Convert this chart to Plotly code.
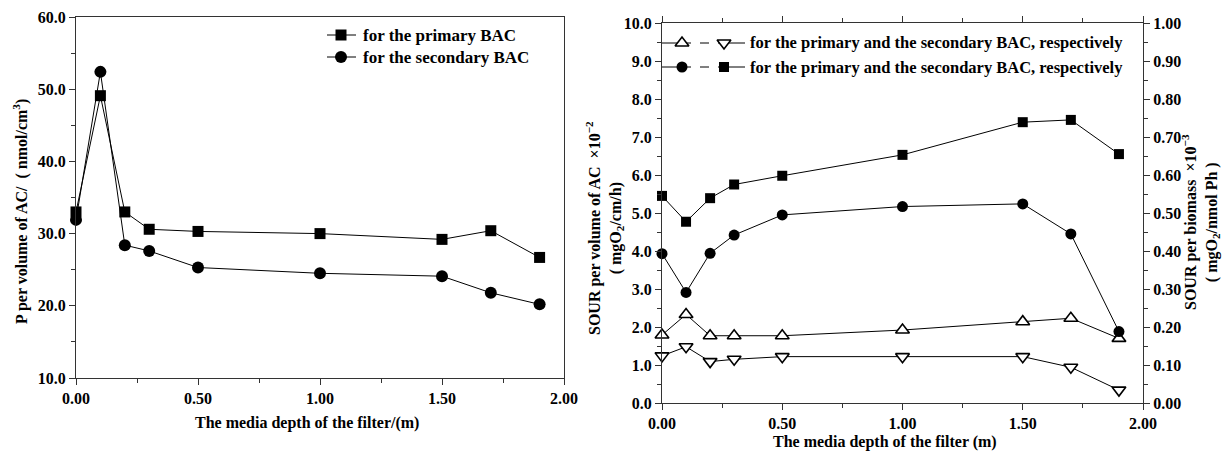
import plotly.graph_objects as go

# ---------------- data ----------------
depth = [0.0, 0.1, 0.2, 0.3, 0.5, 1.0, 1.5, 1.7, 1.9]

# left chart: P per volume of AC (nmol/cm3)
p_primary = [33.0, 49.1, 33.0, 30.6, 30.3, 30.0, 29.2, 30.4, 26.7]
p_secondary = [31.9, 52.4, 28.4, 27.6, 25.3, 24.5, 24.1, 21.8, 20.2]

# right chart: SOUR per volume of AC x10^-2 (left axis)
sour_vol_primary = [1.79, 2.33, 1.77, 1.77, 1.77, 1.92, 2.14, 2.23, 1.70]
sour_vol_secondary = [1.24, 1.48, 1.09, 1.15, 1.22, 1.22, 1.22, 0.94, 0.34]
# right chart: SOUR per biomass x10^-3 (right axis)
sour_bio_primary = [0.393, 0.291, 0.394, 0.442, 0.495, 0.517, 0.524, 0.445, 0.188]
sour_bio_secondary = [0.545, 0.477, 0.539, 0.575, 0.598, 0.653, 0.739, 0.745, 0.655]

left_legend = ["for the primary BAC", "for the secondary BAC"]
right_legend = ["for the primary and the secondary BAC, respectively",
                "for the primary and the secondary BAC, respectively"]

FONT = "Liberation Serif"
OFF = 8                      # page body margin
W, H = 1230 - OFF, 460 - OFF

def px(x):
    return (x - OFF) / W

def py(y):
    return 1 - (y - OFF) / H

fig = go.Figure()

line = dict(color="black", width=1)

# left chart traces
fig.add_trace(go.Scatter(x=depth, y=p_primary, mode="lines+markers", xaxis="x", yaxis="y",
                         line=line, marker=dict(symbol="square", size=11, color="black"),
                         cliponaxis=False, showlegend=False))
fig.add_trace(go.Scatter(x=depth, y=p_secondary, mode="lines+markers", xaxis="x", yaxis="y",
                         line=line, marker=dict(symbol="circle", size=12, color="black"),
                         cliponaxis=False, showlegend=False))

# right chart traces
tri_marker = dict(color="white", line=dict(color="black", width=1.6))
fig.add_trace(go.Scatter(x=depth, y=sour_vol_primary, mode="lines+markers", xaxis="x2", yaxis="y2",
                         line=line, marker=dict(symbol="triangle-up", size=12, **tri_marker),
                         cliponaxis=False, showlegend=False))
fig.add_trace(go.Scatter(x=depth, y=sour_vol_secondary, mode="lines+markers", xaxis="x2", yaxis="y2",
                         line=line, marker=dict(symbol="triangle-down", size=12, **tri_marker),
                         cliponaxis=False, showlegend=False))
fig.add_trace(go.Scatter(x=depth, y=sour_bio_primary, mode="lines+markers", xaxis="x2", yaxis="y3",
                         line=line, marker=dict(symbol="circle", size=11, color="black"),
                         cliponaxis=False, showlegend=False))
fig.add_trace(go.Scatter(x=depth, y=sour_bio_secondary, mode="lines+markers", xaxis="x2", yaxis="y3",
                         line=line, marker=dict(symbol="square", size=10, color="black"),
                         cliponaxis=False, showlegend=False))

# ---------------- custom legends (full-figure helper axis) ----------------
def leg_seg(x0, x1, y, dash="solid"):
    fig.add_trace(go.Scatter(x=[px(x0), px(x1)], y=[py(y), py(y)], mode="lines", xaxis="x4", yaxis="y4",
                             line=dict(color="black", width=1, dash=dash), showlegend=False,
                             hoverinfo="skip"))

def leg_mark(x, y, marker):
    fig.add_trace(go.Scatter(x=[px(x)], y=[py(y)], mode="markers", xaxis="x4", yaxis="y4",
                             marker=marker, showlegend=False, hoverinfo="skip", cliponaxis=False))

# left legend
for i, (sym, sz) in enumerate([("square", 11), ("circle", 12)]):
    yy = 35 + 22 * i
    leg_seg(327, 356, yy)
    leg_mark(341, yy, dict(symbol=sym, size=sz, color="black"))

# right legend
rows = [(("triangle-up", dict(color="white", line=dict(color="black", width=1.6)), 12),
         ("triangle-down", dict(color="white", line=dict(color="black", width=1.6)), 12)),
        (("circle", dict(color="black"), 11), ("square", dict(color="black"), 10))]
for i, (m1, m2) in enumerate(rows):
    yy = 43 + 24 * i
    leg_seg(662, 682, yy)
    leg_seg(682, 724, yy, dash="dash")
    leg_seg(724, 745, yy)
    leg_mark(682, yy, dict(symbol=m1[0], size=m1[2], **m1[1]))
    leg_mark(724, yy, dict(symbol=m2[0], size=m2[2], **m2[1]))

tickfont = dict(family=FONT, size=16, color="black", weight="bold")
axcommon = dict(showgrid=False, zeroline=False, linecolor="#333", linewidth=1.3,
                ticks="outside", tickcolor="#333", ticklen=6, tickwidth=1.2,
                tickfont=tickfont, automargin=False)

L = dict(l=76, r=564, t=17, b=378)
R = dict(l=662, r=1143, t=23, b=403)

fig.update_layout(
    width=W, height=H, margin=dict(l=0, r=0, t=0, b=0, autoexpand=False),
    paper_bgcolor="white", plot_bgcolor="rgba(0,0,0,0)",
    font=dict(family=FONT, color="black"),
    xaxis=dict(domain=[px(L["l"]), px(L["r"])], anchor="y", range=[0, 2], dtick=0.5,
               tickformat=".2f", mirror=True,
               minor=dict(dtick=0.25, ticks="outside", ticklen=4, tickcolor="#333"), **axcommon),
    yaxis=dict(domain=[py(L["b"]), py(L["t"])], anchor="x", range=[10, 60], dtick=10,
               tickformat=".1f", mirror=True,
               minor=dict(dtick=5, ticks="outside", ticklen=4, tickcolor="#333"), **axcommon),
    xaxis2=dict(domain=[px(R["l"]), px(R["r"])], anchor="y2", range=[0, 2], dtick=0.5,
                tickformat=".2f", mirror="ticks",
                minor=dict(dtick=0.25, ticks="outside", ticklen=4, tickcolor="#333"), **axcommon),
    yaxis2=dict(domain=[py(R["b"]), py(R["t"])], anchor="x2", range=[0, 10], dtick=1,
                tickformat=".1f",
                minor=dict(dtick=0.5, ticks="outside", ticklen=4, tickcolor="#333"), **axcommon),
    yaxis3=dict(domain=[py(R["b"]), py(R["t"])], anchor="x2", overlaying="y2", side="right",
                range=[0, 1], dtick=0.1, tickformat=".2f",
                minor=dict(dtick=0.05, ticks="outside", ticklen=4, tickcolor="#333"), **axcommon),
    xaxis4=dict(domain=[0, 1], range=[0, 1], visible=False, anchor="y4", fixedrange=True),
    yaxis4=dict(domain=[0, 1], range=[0, 1], visible=False, anchor="x4", fixedrange=True),
)

ann = []
tf = dict(family=FONT, size=16, color="black", weight="bold")
tf_left_leg = dict(family=FONT, size=17, color="black", weight="bold")
tf_right_leg = dict(family=FONT, size=16.5, color="black", weight="bold")
# left legend text
for i, t in enumerate(left_legend):
    ann.append(dict(x=px(361), y=py(35 + 22 * i), xref="paper", yref="paper", text=t,
                    showarrow=False, xanchor="left", yanchor="middle", font=tf_left_leg))
for i, t in enumerate(right_legend):
    ann.append(dict(x=px(748), y=py(43 + 24 * i), xref="paper", yref="paper", text=t,
                    showarrow=False, xanchor="left", yanchor="middle", font=tf_right_leg))
# axis titles
c = dict(xref="paper", yref="paper", showarrow=False, xanchor="center", yanchor="middle", font=tf)
ann.append(dict(x=px(20), y=py(212), textangle=-90,
                text="P per volume of AC/  ( nmol/cm<sup>3</sup>)", **c))
ann.append(dict(x=px(307), y=py(423), text="The media depth of the filter/(m)", **c))
ann.append(dict(x=px(604), y=py(228), textangle=-90,
                text="SOUR per volume of AC  ×10<sup>−2</sup><br>( mgO<sub>2</sub>/cm/h)", **c))
ann.append(dict(x=px(1201), y=py(222), textangle=-90,
                text="SOUR per biomass  ×10<sup>−3</sup><br>( mgO<sub>2</sub>/nmol Ph )", **c))
ann.append(dict(x=px(885), y=py(442), text="The media depth of the filter (m)", **c))
fig.update_layout(annotations=ann)

fig.write_html("out.html")
